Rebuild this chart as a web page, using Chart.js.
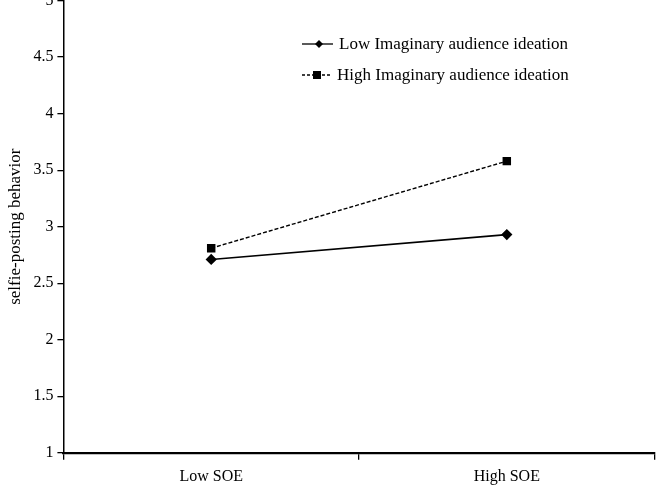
<!DOCTYPE html>
<html>
<head>
<meta charset="utf-8">
<script src="https://cdn.jsdelivr.net/npm/chart.js@4/dist/chart.umd.min.js"></script>
<style>
  html, body { margin: 0; padding: 0; background: #fff; overflow: hidden; }
  #wrap { position: absolute; left: 0; top: -13px; width: 661px; height: 506px; }
</style>
</head>
<body>
<div id="wrap"><canvas id="myChart"></canvas></div>
<script>
var categories = ["Low SOE", "High SOE"];
var lowIA = [2.71, 2.93];
var highIA = [2.81, 3.58];
var seriesNames = ["Low Imaginary audience ideation", "High Imaginary audience ideation"];
var yTicks = [1, 1.5, 2, 2.5, 3, 3.5, 4, 4.5, 5];

var serif = "'Liberation Serif', 'Times New Roman', serif";
var shiftY = 13; // canvas is pulled up so the "5" label is cut like in the figure

// legend drawn inside the plot, like the original figure
var insideLegend = {
  id: "insideLegend",
  afterDraw: function(chart) {
    var ctx = chart.ctx;
    ctx.save();
    ctx.font = "17px " + serif;
    ctx.fillStyle = "#000";
    ctx.strokeStyle = "#000";
    ctx.textBaseline = "middle";
    var rows = [{y: 44, dash: [], style: "diamond", x0: 302, x1: 333, mx: 319, tx: 339},
                {y: 75, dash: [3, 2], style: "square", x0: 302, x1: 331, mx: 317, tx: 337}];
    rows.forEach(function(r, i) {
      var y = r.y + shiftY;
      ctx.lineWidth = 1.3;
      ctx.setLineDash(r.dash);
      ctx.beginPath();
      ctx.moveTo(r.x0, y);
      ctx.lineTo(r.x1, y);
      ctx.stroke();
      ctx.setLineDash([]);
      ctx.beginPath();
      if (r.style === "diamond") {
        ctx.moveTo(r.mx, y - 4); ctx.lineTo(r.mx + 4, y); ctx.lineTo(r.mx, y + 4); ctx.lineTo(r.mx - 4, y);
      } else {
        ctx.rect(r.mx - 4, y - 4, 8, 8);
      }
      ctx.closePath();
      ctx.fill();
      ctx.fillText(seriesNames[i], r.tx, y + 1);
    });
    ctx.restore();
  }
};

var ctx = document.getElementById("myChart").getContext("2d");
var myChart = new Chart(ctx, {
  type: "line",
  data: {
    labels: categories,
    datasets: [{
      label: seriesNames[0],
      data: lowIA,
      borderColor: "#000",
      backgroundColor: "#000",
      borderWidth: 1.6,
      pointStyle: "rectRot",
      pointRadius: 4.5,
      pointHoverRadius: 4.5,
      fill: false
    }, {
      label: seriesNames[1],
      data: highIA,
      borderColor: "#000",
      backgroundColor: "#000",
      borderWidth: 1.4,
      borderDash: [4, 2],
      pointStyle: "rect",
      pointRadius: 5,
      pointHoverRadius: 5,
      fill: false
    }]
  },
  options: {
    responsive: true,
    maintainAspectRatio: false,
    animation: false,
    layout: { padding: { left: 1, right: 6, top: 0, bottom: 0 } },
    plugins: {
      legend: { display: false },
      tooltip: { enabled: false }
    },
    scales: {
      x: {
        offset: true,
        grid: { offset: true, drawOnChartArea: false, tickLength: 7, color: "#000", lineWidth: 1.3 },
        border: { color: "#000", width: 2.2 },
        ticks: { color: "#000", font: { family: serif, size: 16 }, padding: 7 }
      },
      y: {
        min: 1,
        max: 5,
        afterBuildTicks: function(axis) {
          axis.ticks = yTicks.map(function(v) { return { value: v }; });
        },
        grid: { drawOnChartArea: false, tickLength: 6, color: "#000", lineWidth: 1.3 },
        border: { color: "#000", width: 1.5 },
        ticks: {
          color: "#000", font: { family: serif, size: 16 }, padding: 4,
          callback: function(v) { return String(v); }
        },
        title: { display: true, text: "selfie-posting behavior", color: "#000", font: { family: serif, size: 17 }, padding: 4 }
      }
    }
  },
  plugins: [insideLegend]
});
</script>
</body>
</html>
